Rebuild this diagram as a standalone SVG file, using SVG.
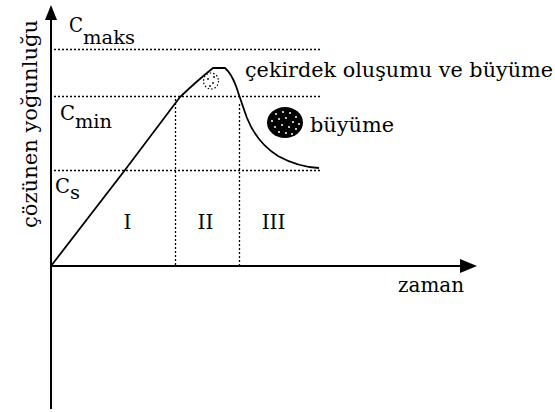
<svg xmlns="http://www.w3.org/2000/svg" width="555" height="412" viewBox="0 0 555 412">
<style>
  text { font-family: "DejaVu Serif", "Liberation Serif", serif; fill: #000; }
  .lbl { font-size: 20px; }
  .sub { font-size: 18px; }
  .dot { stroke: #000; stroke-width: 1.3; stroke-dasharray: 2 2; fill: none; }
  .axis { stroke: #000; stroke-width: 2; fill: none; }
</style>
<g id="guides">
  <line class="dot" x1="54" y1="49.5" x2="322" y2="49.5"/>
  <line class="dot" x1="54" y1="96.5" x2="322" y2="96.5"/>
  <line class="dot" x1="54" y1="170.5" x2="322" y2="170.5"/>
  <line class="dot" x1="175.5" y1="99" x2="175.5" y2="265"/>
  <line class="dot" x1="239.5" y1="104" x2="239.5" y2="265"/>
</g>
<g id="axes">
  <line class="axis" x1="51" y1="409" x2="51" y2="18"/>
  <path d="M45,20 L51,5 L57,20 Z" fill="#000"/>
  <line class="axis" x1="51" y1="266" x2="462" y2="266"/>
  <path d="M460,259 L477,266 L460,273 Z" fill="#000"/>
</g>
<g id="curve">
  <path d="M51,266 L125,170 L180,97 Q198,80 213,68 L225,68 Q231,73 236,86 Q242,104 247,118 Q257,143 278,156 Q298,167 319,168" fill="none" stroke="#000" stroke-width="1.8"/>
</g>
<g id="nucleus">
  <ellipse cx="211" cy="81" rx="7.5" ry="8" fill="none" stroke="#000" stroke-width="1.2" stroke-dasharray="1.5 2"/>
  <circle cx="208" cy="79" r="0.9" fill="#000"/>
  <circle cx="213" cy="83" r="0.9" fill="#000"/>
  <circle cx="210" cy="86" r="0.9" fill="#000"/>
  <circle cx="214" cy="77" r="0.9" fill="#000"/>
</g>
<g id="crystal">
  <ellipse cx="285" cy="122.5" rx="18" ry="15.5" fill="#000"/>
  <g fill="#fff">
    <circle cx="276" cy="114" r="1"/><circle cx="283" cy="112" r="1"/><circle cx="290" cy="113" r="1"/><circle cx="296" cy="117" r="1"/>
    <circle cx="272" cy="121" r="1"/><circle cx="279" cy="119" r="1"/><circle cx="286" cy="118" r="1"/><circle cx="293" cy="122" r="1"/><circle cx="299" cy="124" r="1"/>
    <circle cx="275" cy="127" r="1"/><circle cx="282" cy="125" r="1"/><circle cx="289" cy="127" r="1"/><circle cx="296" cy="129" r="1"/>
    <circle cx="279" cy="132" r="1"/><circle cx="286" cy="133" r="1"/><circle cx="292" cy="134" r="1"/>
  </g>
</g>
<g id="labels">
  <text class="lbl" x="69" y="32" textLength="14" lengthAdjust="spacingAndGlyphs">C</text>
  <text class="sub" x="83" y="44" textLength="52" lengthAdjust="spacingAndGlyphs">maks</text>
  <text class="lbl" x="60" y="120" textLength="15" lengthAdjust="spacingAndGlyphs">C</text>
  <text class="sub" x="75" y="128" textLength="37" lengthAdjust="spacingAndGlyphs">min</text>
  <text class="lbl" x="55" y="193" textLength="15" lengthAdjust="spacingAndGlyphs">C</text>
  <text class="sub" x="70" y="199" textLength="10" lengthAdjust="spacingAndGlyphs">s</text>
  <text class="lbl" x="127.5" y="229" text-anchor="middle">I</text>
  <text class="lbl" x="205.5" y="229" text-anchor="middle">II</text>
  <text class="lbl" x="273.5" y="229" text-anchor="middle">III</text>
  <text class="lbl" x="245" y="77" textLength="308" lengthAdjust="spacingAndGlyphs">çekirdek oluşumu ve büyüme</text>
  <text class="lbl" x="310" y="132" textLength="84" lengthAdjust="spacingAndGlyphs">büyüme</text>
  <text class="lbl" x="398" y="292" textLength="66" lengthAdjust="spacingAndGlyphs">zaman</text>
  <g opacity="0.99">
    <text class="lbl" transform="translate(37,228) rotate(-90)" x="0" y="0" textLength="208" lengthAdjust="spacingAndGlyphs">çözünen yoğunluğu</text>
  </g>
</g>
</svg>
